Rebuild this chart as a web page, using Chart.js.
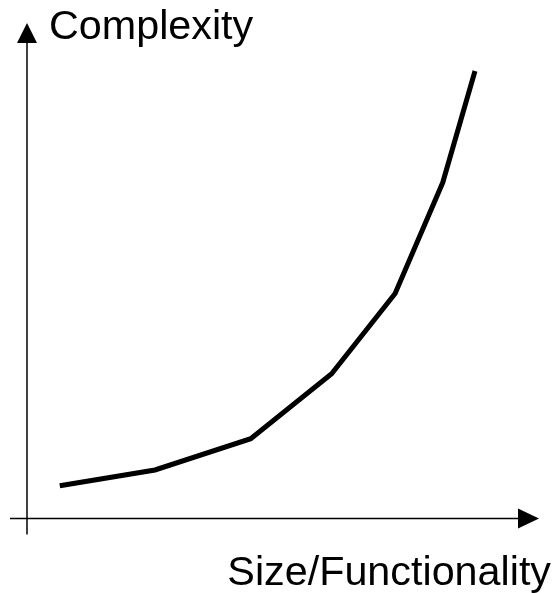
<!DOCTYPE html>
<html>
<head>
  <title>Complexity vs Size</title>
  <script src="https://cdn.jsdelivr.net/npm/chart.js"></script>
  <style>
    body {
      margin: 0;
      background: #fff;
    }
  </style>
</head>
<body>
  <canvas id="curve" width="558" height="593"></canvas>
  <script>
    // Curve (axis units 0..100)
    const sizeValues = [6.4, 25.0, 43.7, 59.5, 71.9, 81.2, 87.5];
    const complexityValues = [6.6, 9.8, 16.1, 29.2, 45.4, 67.8, 90.3];

    const xAxisLabel = 'Size/Functionality';
    const yAxisLabel = 'Complexity';

    // Axes with arrowheads plus the two labels
    const arrowAxes = {
      id: 'arrowAxes',
      beforeDatasetsDraw(chart) {
        const ctx = chart.ctx;
        const x = chart.scales.x;
        const y = chart.scales.y;
        const ox = x.getPixelForValue(0);
        const oy = y.getPixelForValue(0);
        const xEnd = x.getPixelForValue(100);
        const yEnd = y.getPixelForValue(100);

        ctx.save();
        ctx.strokeStyle = '#000';
        ctx.fillStyle = '#000';
        ctx.lineWidth = 1.5;

        // horizontal axis
        ctx.beginPath();
        ctx.moveTo(ox - 17, oy);
        ctx.lineTo(xEnd - 20, oy);
        ctx.stroke();
        ctx.beginPath();
        ctx.moveTo(xEnd, oy);
        ctx.lineTo(xEnd - 21, oy - 10);
        ctx.lineTo(xEnd - 21, oy + 10);
        ctx.closePath();
        ctx.fill();

        // vertical axis
        ctx.beginPath();
        ctx.moveTo(ox, oy + 16);
        ctx.lineTo(ox, yEnd + 19);
        ctx.stroke();
        ctx.beginPath();
        ctx.moveTo(ox, yEnd);
        ctx.lineTo(ox - 10, yEnd + 20);
        ctx.lineTo(ox + 10, yEnd + 20);
        ctx.closePath();
        ctx.fill();

        ctx.font = '41.3px "Liberation Sans", Arial, sans-serif';
        ctx.textBaseline = 'alphabetic';
        ctx.textAlign = 'left';
        ctx.fillText(yAxisLabel, ox + 22, yEnd + 16);
        ctx.textAlign = 'right';
        ctx.fillText(xAxisLabel, xEnd + 12, oy + 66);
        ctx.restore();
      }
    };

    new Chart(document.getElementById('curve'), {
      type: 'line',
      data: {
        datasets: [{
          data: sizeValues.map((v, i) => ({ x: v, y: complexityValues[i] })),
          borderColor: '#000',
          borderWidth: 5,
          borderCapStyle: 'butt',
          pointRadius: 0,
          tension: 0,
          fill: false
        }]
      },
      options: {
        responsive: false,
        animation: false,
        devicePixelRatio: 1,
        layout: {
          padding: { left: 27, right: 19, top: 23, bottom: 74.5 }
        },
        plugins: {
          legend: { display: false },
          tooltip: { enabled: false }
        },
        scales: {
          x: { type: 'linear', min: 0, max: 100, display: false },
          y: { type: 'linear', min: 0, max: 100, display: false }
        }
      },
      plugins: [arrowAxes]
    });
  </script>
</body>
</html>
